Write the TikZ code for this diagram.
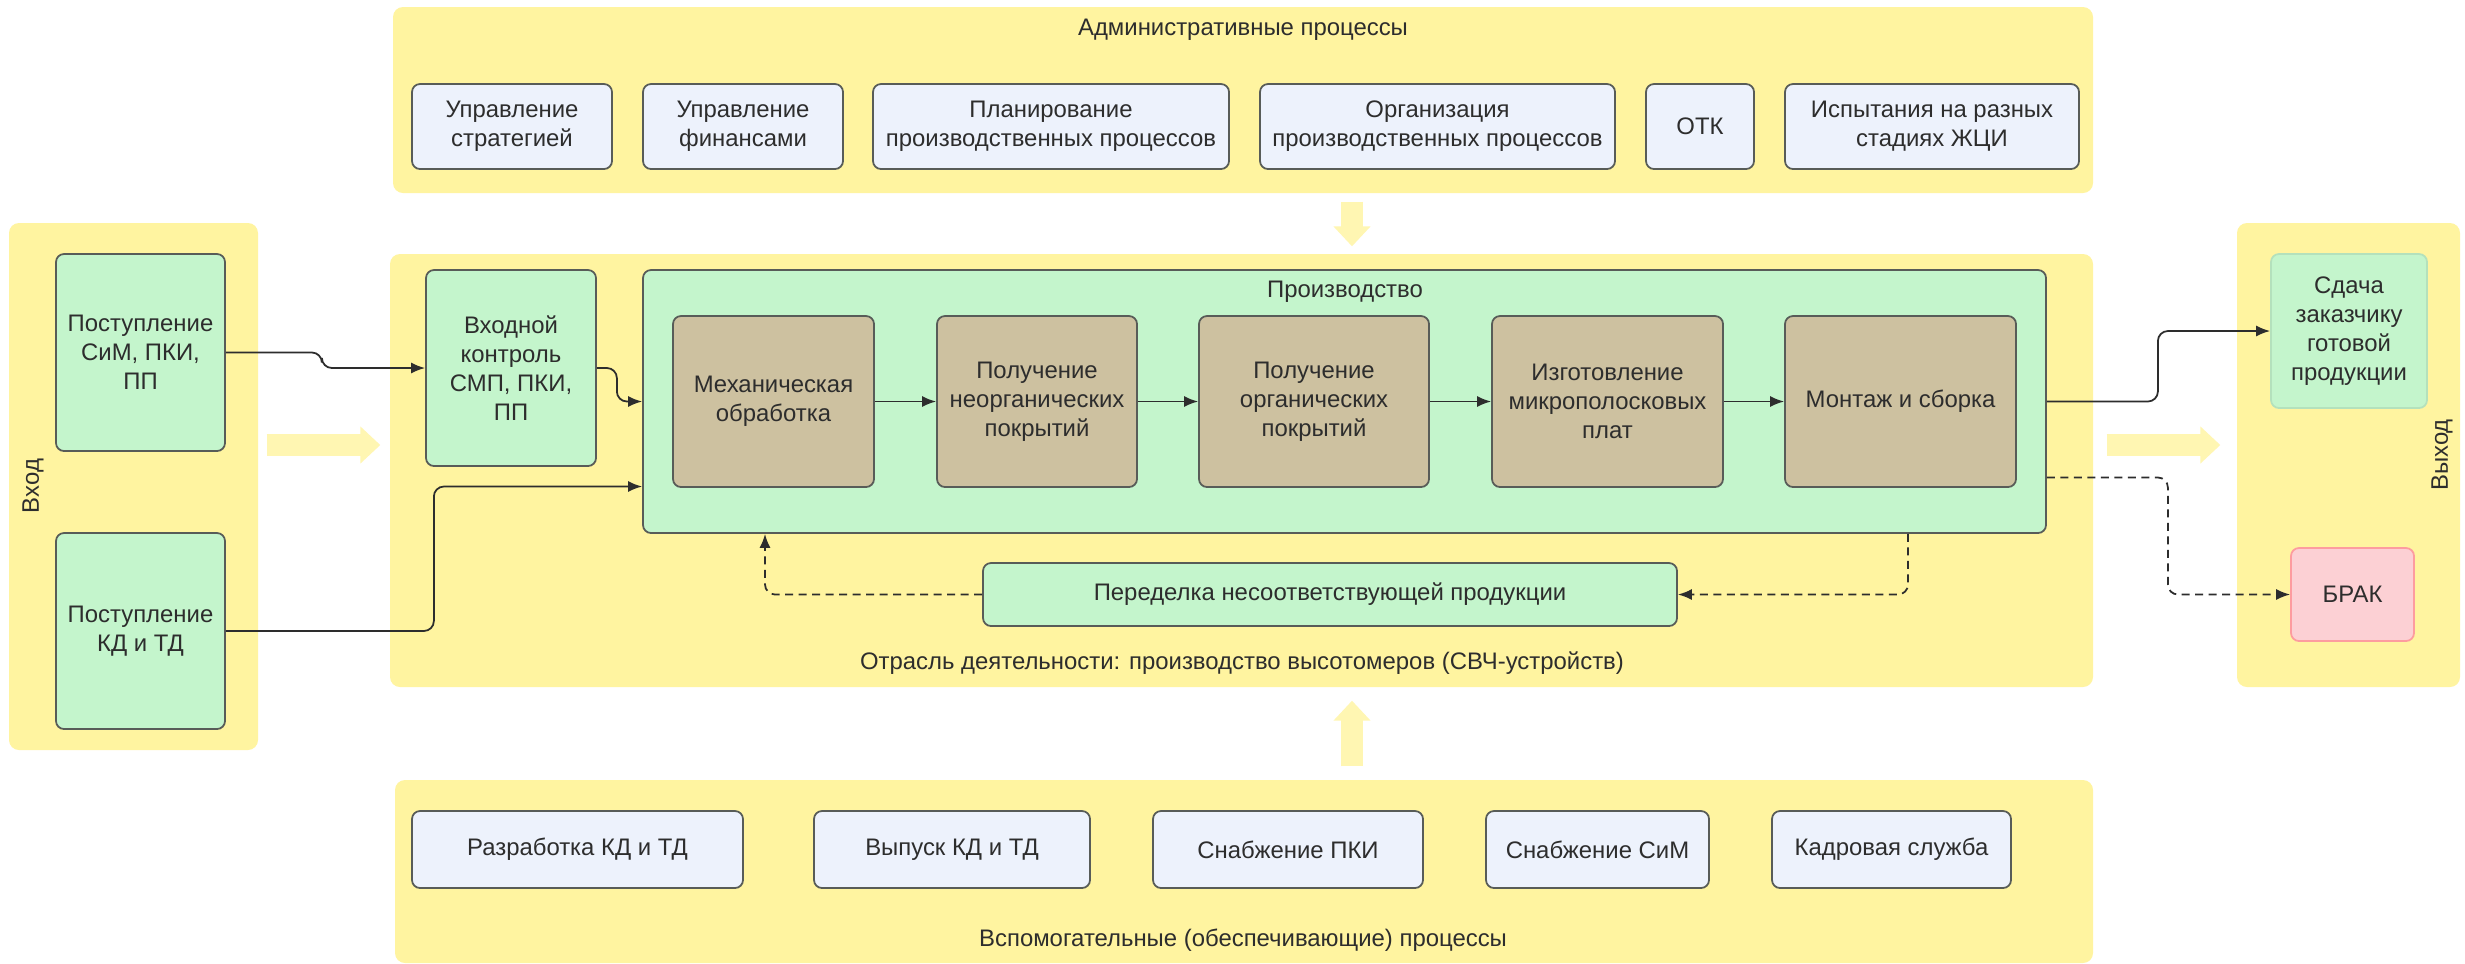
\documentclass[tikz,border=0pt]{standalone}
\usepackage{fontspec}
\setmainfont{Liberation Sans}
\usetikzlibrary{arrows.meta}

\definecolor{bandyellow}{RGB}{255,244,160}
\definecolor{fatyellow}{RGB}{255,246,178}
\definecolor{admblue}{RGB}{237,242,252}
\definecolor{prodgreen}{RGB}{196,245,204}
\definecolor{stepbrown}{RGB}{205,193,160}
\definecolor{brakpink}{RGB}{252,208,212}
\definecolor{edgegrey}{RGB}{88,92,88}
\definecolor{inkgrey}{RGB}{45,45,45}

\begin{document}
\begin{tikzpicture}[x=1cm, y=-1cm,
  every node/.style={font=\fontsize{6.8}{8.3}\selectfont, text=inkgrey},
  band/.style={fill=bandyellow, rounded corners=1mm, inner sep=0pt},
  box/.style={draw=edgegrey, line width=0.5pt, rounded corners=0.8mm, align=center, inner sep=1pt},
  admbox/.style={box, fill=admblue},
  greenbox/.style={box, fill=prodgreen},
  stepbox/.style={box, fill=stepbrown},
  link/.style={draw=inkgrey, line width=0.5pt, rounded corners=1mm, -{Latex[length=1.4mm,width=1.1mm]}},
  backlink/.style={link, dash pattern=on 0.8mm off 0.55mm},
  fatarrow/.style={draw=fatyellow, line width=2.2mm, -{Triangle[length=2mm,width=3.6mm]}}]
  \fill[white] (0,0) rectangle (24.65,9.63);
  \useasboundingbox (0,0) rectangle (24.65,9.63);

  % bands
  \node[band, minimum width=17.00cm, minimum height=1.86cm] (admband) at (12.43,1.00) {};
  \node[band, minimum width=17.03cm, minimum height=4.33cm] (midband) at (12.415,4.705) {};
  \node[band, minimum width=16.98cm, minimum height=1.83cm] (supband) at (12.44,8.715) {};
  \node[band, minimum width=2.49cm, minimum height=5.27cm] (inband) at (1.335,4.865) {};
  \node[band, minimum width=2.23cm, minimum height=4.64cm] (outband) at (23.485,4.55) {};

  % band titles
  \node (admtitle) at (12.43,0.30) {Административные процессы};
  \node (midtitle) at (12.42,6.63) {Отрасль деятельности: производство высотомеров (СВЧ-устройств)};
  \node (suptitle) at (12.43,9.40) {Вспомогательные (обеспечивающие) процессы};
  \node[rotate=90] (intitle) at (0.33,4.86) {Вход};
  \node[rotate=90] (outtitle) at (24.42,4.55) {Выход};

  % fat arrows between bands
  \coordinate (flowrow) at (0,4.45);
  \coordinate (flowcol) at (13.52,0);
  \draw[fatarrow] ([xshift=0.8mm]inband.east |- flowrow) -- ([xshift=-0.9mm]midband.west |- flowrow);
  \draw[fatarrow] ([xshift=1.3mm]midband.east |- flowrow) -- ([xshift=-1.6mm]outband.west |- flowrow);
  \draw[fatarrow] ([yshift=-0.8mm]flowcol |- admband.south) -- ([yshift=0.7mm]flowcol |- midband.north);
  \draw[fatarrow] ([yshift=1.3mm]flowcol |- supband.north) -- ([yshift=-1.3mm]flowcol |- midband.south);

  % administrative processes
  \node[admbox, minimum width=2.00cm, minimum height=0.85cm] (strat) at (5.12,1.265) {Управление\\стратегией};
  \node[admbox, minimum width=2.00cm, minimum height=0.85cm] (fin) at (7.43,1.265) {Управление\\финансами};
  \node[admbox, minimum width=3.56cm, minimum height=0.85cm] (plan) at (10.51,1.265) {Планирование\\производственных процессов};
  \node[admbox, minimum width=3.55cm, minimum height=0.85cm] (org) at (14.375,1.265) {Организация\\производственных процессов};
  \node[admbox, minimum width=1.08cm, minimum height=0.85cm] (otk) at (17.00,1.265) {ОТК};
  \node[admbox, minimum width=2.94cm, minimum height=0.85cm] (tests) at (19.32,1.265) {Испытания на разных\\стадиях ЖЦИ};

  % supporting processes
  \node[admbox, minimum width=3.31cm, minimum height=0.77cm] (kddev) at (5.775,8.495) {Разработка КД и ТД};
  \node[admbox, minimum width=2.76cm, minimum height=0.77cm] (kdout) at (9.52,8.495) {Выпуск КД и ТД};
  \node[admbox, minimum width=2.70cm, minimum height=0.77cm] (pki) at (12.88,8.495) {Снабжение ПКИ};
  \node[admbox, minimum width=2.23cm, minimum height=0.77cm] (sim) at (15.975,8.495) {Снабжение СиМ};
  \node[admbox, minimum width=2.39cm, minimum height=0.77cm] (staff) at (18.915,8.495) {Кадровая служба};

  % inputs
  \node[greenbox, minimum width=1.69cm, minimum height=1.97cm] (inmat) at (1.405,3.525) {Поступление\\СиМ, ПКИ,\\ПП};
  \node[greenbox, minimum width=1.69cm, minimum height=1.96cm] (indoc) at (1.405,6.31) {Поступление\\КД и ТД};

  % production
  \node[greenbox, minimum width=1.70cm, minimum height=1.96cm] (check) at (5.11,3.68) {Входной\\контроль\\СМП, ПКИ,\\ПП};
  \node[greenbox, minimum width=14.03cm, minimum height=2.63cm] (prod) at (13.445,4.015) {};
  \node (prodtitle) at (13.45,2.92) {Производство};
  \node[stepbox, minimum width=2.01cm, minimum height=1.71cm] (mech) at (7.735,4.015) {Механическая\\обработка};
  \node[stepbox, minimum width=2.00cm, minimum height=1.71cm] (inorg) at (10.37,4.015) {Получение\\неорганических\\покрытий};
  \node[stepbox, minimum width=2.30cm, minimum height=1.71cm] (organic) at (13.14,4.015) {Получение\\органических\\покрытий};
  \node[stepbox, minimum width=2.31cm, minimum height=1.71cm] (strip) at (16.075,4.015) {Изготовление\\микрополосковых\\плат};
  \node[stepbox, minimum width=2.31cm, minimum height=1.71cm] (mount) at (19.005,4.015) {Монтаж и сборка};
  \node[greenbox, minimum width=6.94cm, minimum height=0.63cm] (rework) at (13.30,5.945) {Переделка несоответствующей продукции};

  % outputs
  \node[box, draw=prodgreen!80!black!40!prodgreen, fill=prodgreen, minimum width=1.56cm, minimum height=1.54cm] (deliver) at (23.49,3.31) {Сдача\\заказчику\\готовой\\продукции};
  \node[box, draw=brakpink!75!red, fill=brakpink, minimum width=1.23cm, minimum height=0.93cm] (reject) at (23.525,5.945) {БРАК};

  % connectors
  \draw[link] (inmat.east) -- ++(0.96,0) |- (check.west);
  \draw[link] (check.east) -- ++(0.20,0) |- (prod.west);
  \draw[link] (indoc.east) -- ++(2.08,0) |- ([yshift=-8.5mm]prod.west);
  \foreach \a/\b in {mech/inorg, inorg/organic, organic/strip, strip/mount}
    \draw[link] (\a) -- (\b);
  \draw[link] (prod.east) -- ++(1.11,0) |- (deliver.west);
  \draw[backlink] ([yshift=-7.6mm]prod.east) -- ++(1.21,0) |- (reject.west);
  \draw[backlink] ([xshift=56.35mm]prod.south) |- (rework.east);
  \draw[backlink] (rework.west) -| ([xshift=-57.95mm]prod.south);
\end{tikzpicture}
\end{document}
